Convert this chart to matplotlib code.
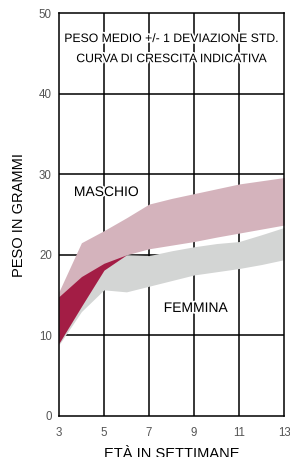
'''
Growth curve: mean weight +/- 1 std, male vs female.
'''
import numpy as np
import matplotlib.pyplot as plt
import matplotlib.patheffects as pe

weeks = [3, 4, 5, 6, 7, 8, 9, 10, 11, 12, 13]
male_hi = [15.4, 21.5, 23.0, 24.6, 26.3, 27.0, 27.6, 28.2, 28.8, 29.2, 29.6]
male_lo = [9.0, 13.6, 18.1, 20.0, 20.75, 21.2, 21.65, 22.2, 22.7, 23.2, 23.7]
female_hi = [14.8, 17.3, 18.95, 20.0, 19.9, 20.5, 21.0, 21.4, 21.65, 22.5, 23.4]
female_lo = [8.8, 12.95, 15.65, 15.4, 16.1, 16.8, 17.5, 17.9, 18.3, 18.8, 19.4]

xticks = [3, 5, 7, 9, 11, 13]
yticks = [0, 10, 20, 30, 40, 50]

plt.rcParams['font.family'] = ['Liberation Sans', 'DejaVu Sans']

x = np.array(weeks)
mhi, mlo = np.array(male_hi), np.array(male_lo)
fhi, flo = np.array(female_hi), np.array(female_lo)

fig = plt.figure(figsize=(2.9, 4.57), dpi=100)
ax = fig.add_axes([0.203, 0.09, 0.777, 0.881])

# grid first, bands over it
for g in [5, 7, 9, 11]:
  ax.axvline(g, c='k', lw=1.1, zorder=1)
for g in [10, 20, 30, 40]:
  ax.axhline(g, c='k', lw=1.1, zorder=1)

ax.fill_between(x, flo, fhi, color='#d3d5d4', lw=0, zorder=2)
ax.fill_between(x, mlo, mhi, color='#d4b3bc', lw=0, zorder=2)
top = np.minimum(mhi, fhi)
bot = np.maximum(mlo, flo)
ax.fill_between(x, bot, top, where=top >= bot, interpolate=True,
                color='#a31d45', lw=0, zorder=3)

halo = [pe.withStroke(linewidth=2.5, foreground='white')]
ax.text(8, 46.8, 'PESO MEDIO +/- 1 DEVIAZIONE STD.', ha='center', va='center',
        fontsize=8.8, zorder=5, path_effects=halo)
ax.text(8, 44.3, 'CURVA DI CRESCITA INDICATIVA', ha='center', va='center',
        fontsize=8.8, zorder=5, path_effects=halo)
ax.text(5.1, 27.8, 'MASCHIO', ha='center', va='center', fontsize=10,
        zorder=5, path_effects=halo)
ax.text(9.07, 13.4, 'FEMMINA', ha='center', va='center', fontsize=10,
        zorder=5, path_effects=halo)

ax.set_xlim(3, 13)
ax.set_ylim(0, 50)
ax.set_xticks(xticks)
ax.set_yticks(yticks)
ax.tick_params(length=0, labelsize=8.3, labelcolor='#555555')
ax.tick_params(axis='x', pad=8)
ax.tick_params(axis='y', pad=5)
for s in ax.spines.values():
  s.set_linewidth(1.1)
  s.set_zorder(6)
ax.set_xlabel('ETÀ IN SETTIMANE', fontsize=10.5, labelpad=6)
ax.set_ylabel('PESO IN GRAMMI', fontsize=10.5, labelpad=9)
plt.savefig('out.png')
